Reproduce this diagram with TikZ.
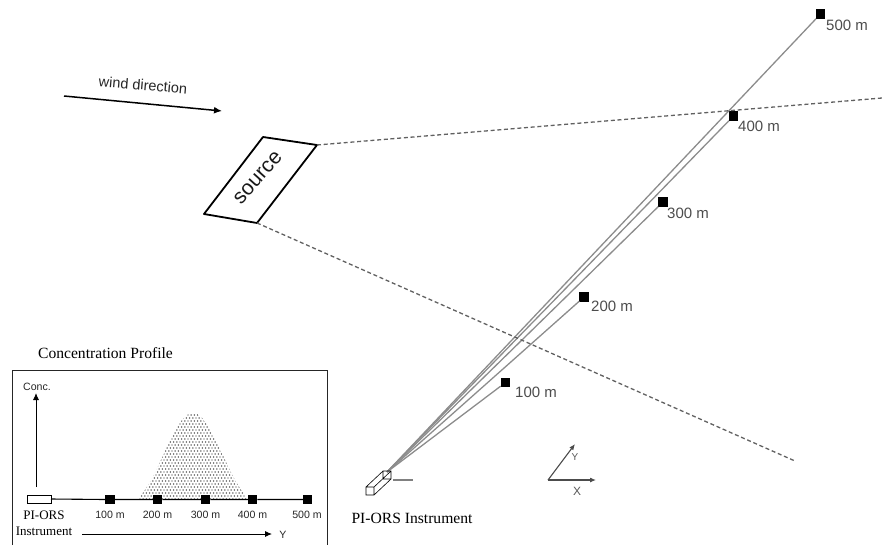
\documentclass[tikz,border=0pt]{standalone}
\usepackage{fontspec}
\setmainfont{Liberation Serif}
\setsansfont{Liberation Sans}
\usetikzlibrary{arrows.meta}
\tikzset{
  ray/.style={draw=black!45,line width=1.3pt},
  dashline/.style={draw=black!62,line width=1.3pt,dash pattern=on 4pt off 2.7pt},
  marker/.style={fill=black,minimum size=9.5pt,inner sep=0pt,outer sep=0pt},
  rangelabel/.style={font=\sffamily\fontsize{15}{16}\selectfont,text=black!70,anchor=west,inner sep=0pt},
  profilelabel/.style={font=\sffamily\fontsize{10.6}{11}\selectfont,text=black!85,inner sep=0pt},
  seriflabel/.style={font=\fontsize{15.6}{16}\selectfont,inner sep=0pt},
  insetserif/.style={font=\fontsize{13}{14}\selectfont,inner sep=0pt},
}
\begin{document}
\begin{tikzpicture}[x=1pt,y=-1pt]
\useasboundingbox (0,0) rectangle (882,546);
% beam origin and retroreflector targets
\coordinate (apex) at (387,472);
\node[marker] (t500) at (820.5,14) {};
\node[marker] (t400) at (733.5,116) {};
\node[marker] (t300) at (663,202) {};
\node[marker] (t200) at (584,297) {};
\node[marker] (t100) at (505.5,382.5) {};
\foreach \t in {t500,t400,t300,t200,t100} \draw[ray] (apex) -- (\t);
\node[rangelabel] at (826,25) {500 m};
\node[rangelabel] at (738,126) {400 m};
\node[rangelabel] at (667,213) {300 m};
\node[rangelabel] at (591,306) {200 m};
\node[rangelabel] at (515,392) {100 m};
% source
\coordinate (sa) at (263,137);
\coordinate (sb) at (317,145);
\coordinate (sc) at (257,223);
\coordinate (sd) at (204,214);
\draw[black,line width=1.8pt,line join=round] (sa) -- (sb) -- (sc) -- (sd) -- cycle;
\node[font=\sffamily\fontsize{21}{22}\selectfont,text=black!90,rotate=48,inner sep=0pt] (src) at (258,178) {source};
\coordinate (e1) at (882,98);
\coordinate (e2) at (795,461);
\draw[dashline] (sb) -- (e1);
\draw[dashline] (sc) -- (e2);
% wind
\coordinate (w1) at (64,96);
\coordinate (w2) at (222,111);
\draw[black,line width=1.5pt,-{Latex[length=8pt,width=7pt]}] (w1) -- (w2);
\node[font=\sffamily\fontsize{14.5}{15}\selectfont,text=black!85,rotate=-5,inner sep=0pt] (wind) at (143,85) {wind direction};
% instrument
\draw[black!50,line width=1.2pt] (393,480) -- (413,480);
\draw[black,line width=.6pt] (366,487) rectangle (374,495)
  (383,471) rectangle (391,479)
  (366,487) -- (383,471) (374,487) -- (391,471) (374,495) -- (391,479);
% axes
\coordinate (o) at (548,480);
\coordinate (ax) at (596,480);
\coordinate (ay) at (575,444);
\draw[black!70,line width=1.1pt,-{Latex[length=6pt,width=5pt]}] (o) -- (ax);
\draw[black!70,line width=1.1pt,-{Latex[length=6pt,width=5pt]}] (o) -- (ay);
\node[font=\sffamily\fontsize{12}{13}\selectfont,text=black!65,inner sep=0pt] (lx) at (577,491) {X};
\node[font=\sffamily\fontsize{10}{11}\selectfont,text=black!65,inner sep=0pt] (ly) at (575,457) {Y};
\node[seriflabel] (instr) at (412,518) {PI-ORS Instrument};
% inset
\node[seriflabel] (title) at (105.5,353) {Concentration Profile};
\draw[black!85,line width=.9pt] (12,545) -- (12,370) -- (327,370) -- (327,545);
\begin{scope}
  \clip plot[domain=138:248,samples=60,smooth] (\x,{499-86*(exp(-((\x-193)/29)^2/2)-0.165)/0.835}) -- cycle;
  \foreach \i in {0,...,29} \foreach \j in {0,...,38} {
    \pgfmathsetmacro{\dx}{132+\j*3.2+mod(\i,2)*1.6}
    \pgfmathsetmacro{\dy}{412+\i*3}
    \fill[black!85] (\dx,\dy) circle[radius=.72];
  }
\end{scope}
\node[draw=black,line width=1pt,fill=white,minimum width=24pt,minimum height=8pt,inner sep=0pt,outer sep=0pt] (pi) at (39,499) {};
\node[marker] (p100) at (110,499.5) {};
\node[marker] (p200) at (157.5,499.5) {};
\node[marker] (p300) at (205.5,499.5) {};
\node[marker] (p400) at (252.5,499.5) {};
\node[marker] (p500) at (307.5,499.5) {};
\draw[black,line width=1.1pt] (pi.east) -- (p100.west) (p100) -- (p200) -- (p300) -- (p400) -- (p500);
\node[profilelabel] at (110,515) {100 m};
\node[profilelabel] at (157.5,515) {200 m};
\node[profilelabel] at (205.5,515) {300 m};
\node[profilelabel] at (252.5,515) {400 m};
\node[profilelabel] at (307,515) {500 m};
\node[insetserif] (pl) at (44,515) {PI-ORS};
\node[insetserif] (il) at (44,531) {Instrument};
\coordinate (c0) at (36,487);
\coordinate (c1) at (36,393);
\draw[black,line width=.9pt,-{Latex[length=7pt,width=6pt]}] (c0) -- (c1);
\node[profilelabel] (cl) at (37,387) {Conc.};
\coordinate (y0) at (82,534);
\coordinate (y1) at (272,534);
\draw[black,line width=.9pt,-{Latex[length=7pt,width=6pt]}] (y0) -- (y1);
\node[profilelabel] (yl) at (283,535) {Y};
\end{tikzpicture}
\end{document}
